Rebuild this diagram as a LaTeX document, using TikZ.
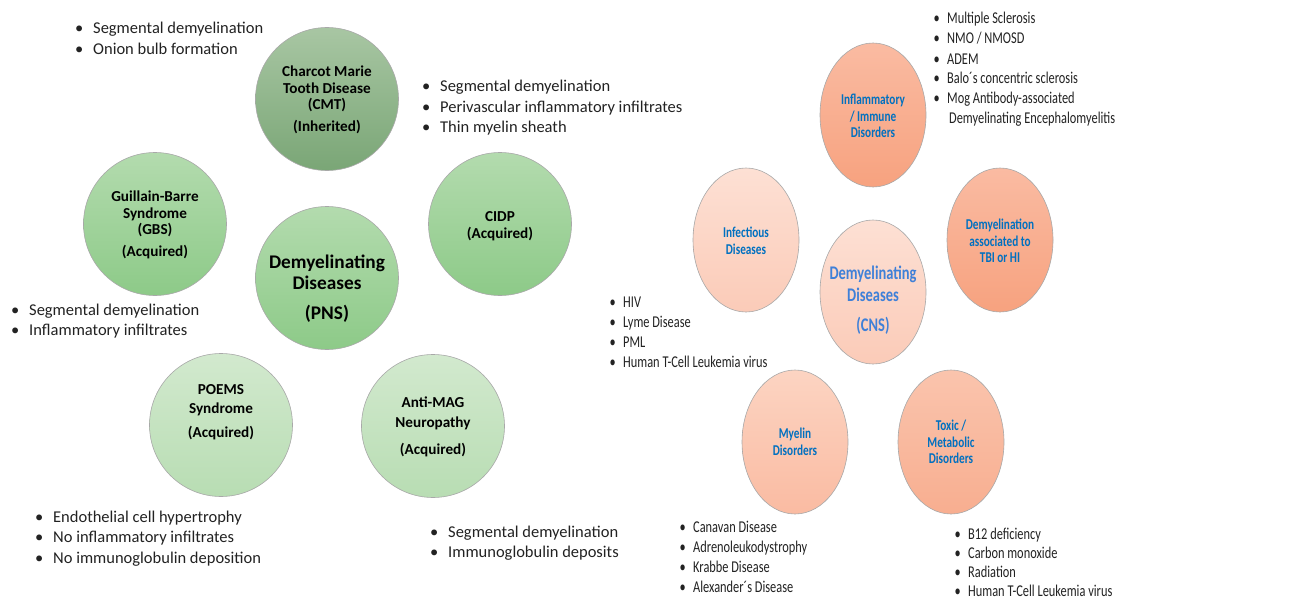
\documentclass[tikz,border=0pt]{standalone}
\usepackage{fontspec}
\setmainfont{Carlito}
\newfontfamily\condf[FakeStretch=0.75]{Carlito}
\usetikzlibrary{shapes.geometric}
\definecolor{txt}{HTML}{222222}
\definecolor{bord}{HTML}{A8A8A8}
\definecolor{oblue}{HTML}{0070C0}
\definecolor{cblue}{HTML}{3F80D8}
\definecolor{g1t}{HTML}{A8C6A3}\definecolor{g1b}{HTML}{7AA676}
\definecolor{g2t}{HTML}{B3DBAE}\definecolor{g2b}{HTML}{8DCA88}
\definecolor{g3t}{HTML}{D2E9CE}\definecolor{g3b}{HTML}{B8DDB3}
\definecolor{o1t}{HTML}{FABBA2}\definecolor{o1b}{HTML}{F7A27F}
\definecolor{o2t}{HTML}{FDE0D4}\definecolor{o2b}{HTML}{FBCBB8}
\definecolor{o3t}{HTML}{FCD4C2}\definecolor{o3b}{HTML}{FABBA2}
\definecolor{o4t}{HTML}{FAC4AD}\definecolor{o4b}{HTML}{F8AE90}
\newcommand\lbul{\makebox[18pt][l]{\textbullet}}
\newcommand\rbul{\makebox[13.5pt][l]{\textbullet}}
\tikzset{
  lt/.style={font=\fontsize{16.5}{20.5}\selectfont, text=txt, inner sep=0pt, anchor=base west},
  rt/.style={font=\condf\fontsize{16.5}{20}\selectfont, text=txt, inner sep=0pt, anchor=base west},
  gc/.style={circle, minimum size=143pt, draw=bord, line width=0.6pt, inner sep=0pt},
  oe/.style={ellipse, minimum width=106pt, minimum height=144pt, draw=bord, line width=0.6pt, inner sep=0pt},
  gl/.style={font=\bfseries\fontsize{15.2}{16.5}\selectfont, align=center, text=black, inner sep=0pt},
  ol/.style={font=\condf\bfseries\fontsize{15}{16.5}\selectfont, align=center, text=oblue, inner sep=0pt},
}
\begin{document}
\begin{tikzpicture}[x=1pt,y=-1pt]
\useasboundingbox[fill=white] (0,0) rectangle (1306,602);
% ---------- PNS (green) ----------
\node[gc, top color=g1t, bottom color=g1b] (cmt) at (327,99) {};
\node[gc, top color=g2t, bottom color=g2b] (gbs) at (155,224) {};
\node[gc, top color=g2t, bottom color=g2b] (pns) at (327,278) {};
\node[gc, top color=g2t, bottom color=g2b] (cidp) at (500,224) {};
\node[gc, top color=g3t, bottom color=g3b] (poems) at (221,425) {};
\node[gc, top color=g3t, bottom color=g3b] (mag) at (433,426) {};

\node[gl] (cmtl) at (327,100) {Charcot Marie\\Tooth Disease\\(CMT)\\[5.5pt](Inherited)};
\node[gl] (gbsl) at (155,225) {Guillain-Barre\\Syndrome\\(GBS)\\[5.5pt](Acquired)};
\node[gl] (cidpl) at (500,226) {CIDP\\(Acquired)};
\node[gl, font=\bfseries\fontsize{19.3}{21}\selectfont] (pnsl) at (327,289) {Demyelinating\\Diseases\\[9pt](PNS)};
\node[gl, font=\bfseries\fontsize{15.2}{19}\selectfont] (poemsl) at (221,412) {POEMS\\Syndrome\\[5pt](Acquired)};
\node[gl, font=\bfseries\fontsize{15.2}{20}\selectfont] (magl) at (433,427) {Anti-MAG\\Neuropathy\\[7pt](Acquired)};

\node[lt] (cmtx) at (75,34) {\begin{tabular}[t]{@{}l@{}}\lbul Segmental demyelination\\ \lbul Onion bulb formation\end{tabular}};
\node[lt] (cidpx) at (422,92) {\begin{tabular}[t]{@{}l@{}}\lbul Segmental demyelination\\ \lbul Perivascular inflammatory infiltrates\\ \lbul Thin myelin sheath\end{tabular}};
\node[lt] (gbsx) at (11,315) {\begin{tabular}[t]{@{}l@{}}\lbul Segmental demyelination\\ \lbul Inflammatory infiltrates\end{tabular}};
\node[lt] (poemsx) at (35,522) {\begin{tabular}[t]{@{}l@{}}\lbul Endothelial cell hypertrophy\\ \lbul No inflammatory infiltrates\\ \lbul No immunoglobulin deposition\end{tabular}};
\node[lt] (magx) at (430,537) {\begin{tabular}[t]{@{}l@{}}\lbul Segmental demyelination\\ \lbul Immunoglobulin deposits\end{tabular}};

% ---------- CNS (orange) ----------
\node[oe, top color=o1t, bottom color=o1b] (infl) at (873,115) {};
\node[oe, top color=o2t, bottom color=o2b] (infe) at (746,240) {};
\node[oe, top color=o1t, bottom color=o1b] (tbi) at (1000,240) {};
\node[oe, top color=o2t, bottom color=o2b] (cns) at (873,292) {};
\node[oe, top color=o3t, bottom color=o3b] (mye) at (795,442) {};
\node[oe, top color=o4t, bottom color=o4b] (tox) at (951,442) {};

\node[ol] (infll) at (873,116) {Inflammatory\\/ Immune\\Disorders};
\node[ol] (infel) at (746,241) {Infectious\\Diseases};
\node[ol] (tbil) at (1000,241) {Demyelination\\associated to\\TBI or HI};
\node[ol, text=cblue, font=\condf\bfseries\fontsize{19.3}{22}\selectfont] (cnsl) at (873,300) {Demyelinating\\Diseases\\[8pt](CNS)};
\node[ol] (myel) at (795,442) {Myelin\\Disorders};
\node[ol] (toxl) at (951,442) {Toxic /\\Metabolic\\Disorders};

\node[rt] (inflx) at (933.5,24) {\begin{tabular}[t]{@{}l@{}}\rbul Multiple Sclerosis\\ \rbul NMO / NMOSD\\ \rbul ADEM\\ \rbul Balo´s concentric sclerosis\\ \rbul Mog Antibody-associated\\ \hspace{15.5pt}Demyelinating Encephalomyelitis\end{tabular}};
\node[rt] (infex) at (609.5,307) {\begin{tabular}[t]{@{}l@{}}\rbul HIV\\ \rbul Lyme Disease\\ \rbul PML\\ \rbul Human T-Cell Leukemia virus\end{tabular}};
\node[rt] (myex) at (679.5,532) {\begin{tabular}[t]{@{}l@{}}\rbul Canavan Disease\\ \rbul Adrenoleukodystrophy\\ \rbul Krabbe Disease\\ \rbul Alexander´s Disease\end{tabular}};
\node[rt, font=\condf\fontsize{16.5}{19}\selectfont] (toxx) at (954.5,539) {\begin{tabular}[t]{@{}l@{}}\rbul B12 deficiency\\ \rbul Carbon monoxide\\ \rbul Radiation\\ \rbul Human T-Cell Leukemia virus\end{tabular}};
\end{tikzpicture}
\end{document}
